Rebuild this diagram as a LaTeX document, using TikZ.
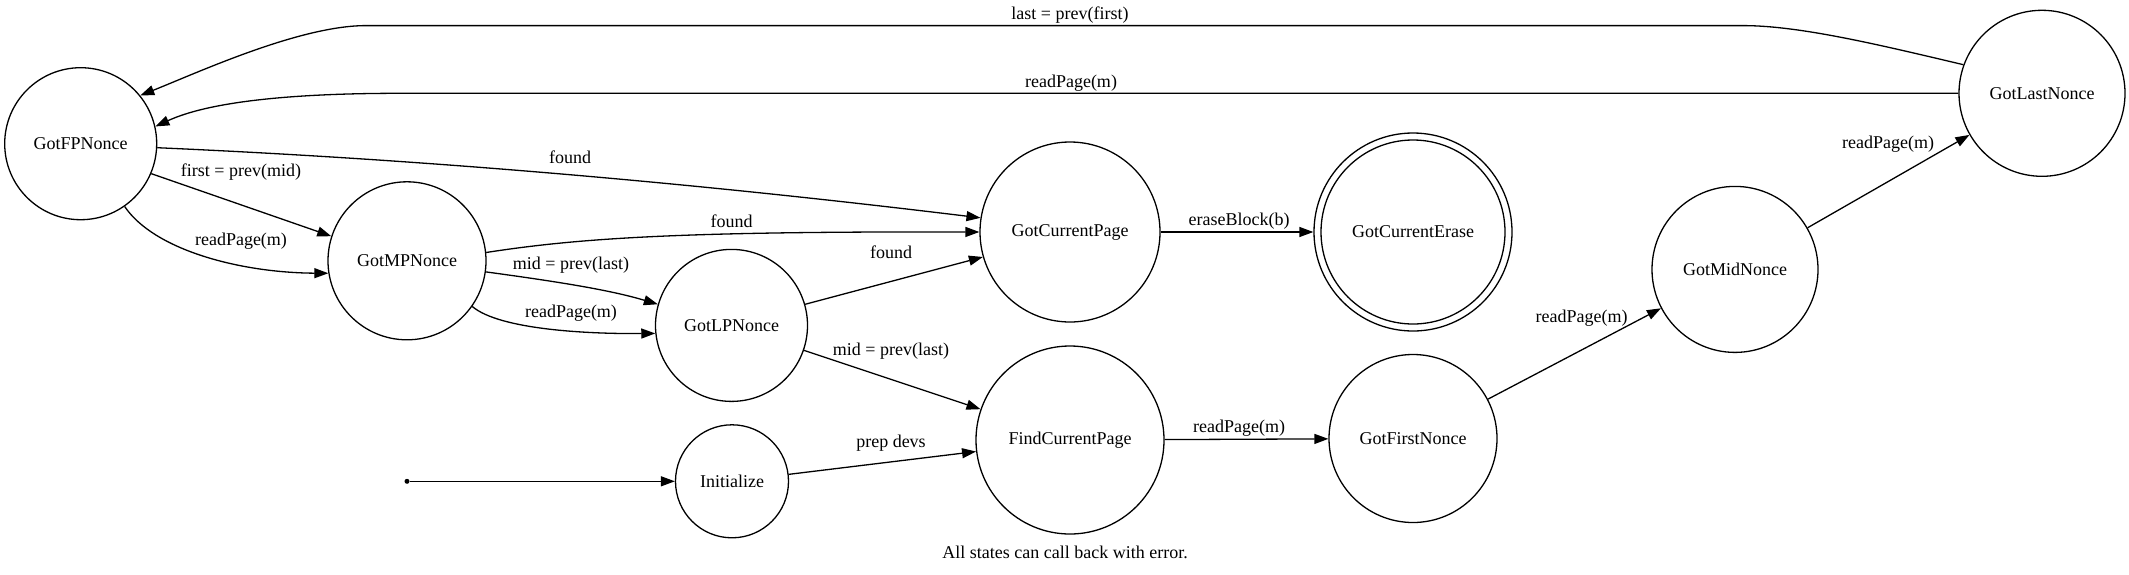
\documentclass[tikz,border=0pt]{standalone}
\usepackage{fontspec}
\setmainfont{Liberation Serif}
\usetikzlibrary{arrows.meta}
\tikzset{
  state/.style={draw, circle, line width=1.3pt, inner sep=0pt, font=\fontsize{18}{21.6}\selectfont},
  lbl/.style={inner sep=0pt, font=\fontsize{18}{21.6}\selectfont},
  edge/.style={line width=1.3pt, -{Triangle[length=14pt,width=10pt]}},
  dotst/.style={circle, fill, inner sep=0pt, minimum size=5pt}
}
\begin{document}
\begin{tikzpicture}[x=1pt,y=-1pt]
\useasboundingbox (0,0) rectangle (2129,574);
% states
\node[state, minimum size=152pt] (FP) at (80.7,143.7) {GotFPNonce};
\node[state, minimum size=158pt] (MP) at (407,260.8) {GotMPNonce};
\node[state, minimum size=152pt] (LP) at (731.5,325.4) {GotLPNonce};
\node[state, minimum size=113pt] (Init) at (732,481.3) {Initialize};
\node[state, minimum size=180pt] (CP) at (1070,232) {GotCurrentPage};
\node[state, minimum size=188pt] (FCP) at (1070,440) {FindCurrentPage};
\node[state, minimum size=198pt] (CE) at (1413,232) {GotCurrentErase};
\draw[line width=1.3pt] (CE.center) circle[radius=92];
\node[state, minimum size=168pt] (FN) at (1413,438.5) {GotFirstNonce};
\node[state, minimum size=166pt] (MN) at (1735,269.4) {GotMidNonce};
\node[state, minimum size=166pt] (LN) at (2042,93.3) {GotLastNonce};
\node[dotst] (start) at (407,481.3) {};
% edges
\draw[edge] (start) -- (Init);
\draw[edge] (Init.7) -- (FCP.-173);
\draw[edge] (FCP) -- (FN);
\draw[edge] (FN) -- (MN);
\draw[edge] (MN) -- (LN);
\draw[edge] (CP) -- (CE);
\draw[edge] (LP.16) -- (CP.-164);
\draw[edge] (LP.-19) -- (FCP.161);
\draw[edge] (FP.-23) -- (MP.162);
\draw[edge] (FP.-55) .. controls (154,250) and (240,272.7) .. (MP.-171);
\draw[edge] (FP.-3) .. controls (436,160) and (702,184) .. (CP.171);
\draw[edge] (MP.6) .. controls (580,238) and (680,231.3) .. (CP.180);
\draw[edge] (MP.-8) .. controls (560,282) and (610,290) .. (LP.164);
\draw[edge] (MP.-35) .. controls (500,330) and (590,334) .. (LP.-174);
\coordinate (t1) at (400,93.3);
\draw[edge] (LN.west) -- (t1) .. controls (310,93.3) and (215,99) .. (FP.13);
\coordinate (u1) at (1743,25.6);
\coordinate (u2) at (366,25.6);
\draw[edge] (LN.160) .. controls (1880,45) and (1800,25.6) .. (u1) -- (u2) .. controls (300,25.6) and (199,72) .. (FP.39);
% labels
\node[lbl] (l1) at (1070,14.6) {last = prev(first)};
\node[lbl] (l2) at (1071,83.5) {readPage(m)};
\node[lbl] (l3) at (570,157.4) {found};
\node[lbl] (l4) at (241,172) {first = prev(mid)};
\node[lbl] (l5) at (241,240.8) {readPage(m)};
\node[lbl] (l6) at (731.5,221.4) {found};
\node[lbl] (l7) at (571,265.4) {mid = prev(last)};
\node[lbl] (l8) at (571,313) {readPage(m)};
\node[lbl] (l9) at (891,252.6) {found};
\node[lbl] (l10) at (891,350.7) {mid = prev(last)};
\node[lbl] (l11) at (891,443) {prep devs};
\node[lbl] (l12) at (1239,428) {readPage(m)};
\node[lbl] (l13) at (1239,221.4) {eraseBlock(b)};
\node[lbl] (l14) at (1581.6,317.7) {readPage(m)};
\node[lbl] (l15) at (1888,144.6) {readPage(m)};
\node[lbl] (l16) at (1065,552.7) {All states can call back with error.};
\end{tikzpicture}
\end{document}
